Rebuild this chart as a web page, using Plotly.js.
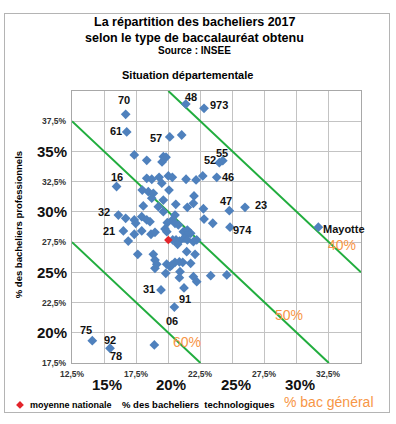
<!DOCTYPE html>
<html><head><meta charset="utf-8">
<script src="https://cdn.plot.ly/plotly-3.0.1.min.js"></script>
<style>
html,body{margin:0;padding:0;background:#fff;}
#chart{position:absolute;left:0;top:0;width:396px;height:424px;}
#frame{position:absolute;left:4px;top:13px;width:384px;height:398px;border:1px solid #b4b4b4;pointer-events:none;}
</style></head><body>
<div id="chart"></div><div id="frame"></div>
<script>
// Departments: % technological baccalaureates (x) and % professional baccalaureates (y)
const deptCodes = ['70','61','57','48','973','52','55','16','46','47','23','32','21','974','Mayotte','91','31','06','75','92','78',
  '','','','','','','','','','','','','','','','','','','','','','','','','','','','','','','','','','','','','','','','','','','','','','','','','','','','','','','','','','','','','','','','','','','',''];
const techPct = [16.68,16.76,20.11,21.36,22.78,23.97,24.24,15.97,23.77,24.75,25.97,16.11,16.50,24.80,31.68,21.22,19.43,20.47,14.08,15.46,18.91,
  21.04,17.35,18.32,19.61,19.82,19.51,18.32,18.71,19.28,20.00,20.31,19.49,21.38,22.16,22.68,
  20.05,17.97,18.44,18.83,18.71,19.61,19.22,18.05,20.58,22.00,21.95,21.48,22.73,
  16.68,17.35,17.46,17.93,18.32,18.57,19.61,20.31,20.52,19.92,20.52,20.78,19.74,19.88,
  17.35,17.93,18.65,18.96,16.88,21.17,21.48,21.74,21.38,22.78,23.46,
  20.34,20.60,20.86,21.22,21.48,21.95,22.21,
  17.62,18.83,18.96,19.10,18.96,19.87,20.13,20.52,20.86,21.12,21.43,22.08,21.74,
  19.80,20.91,20.86,21.95,22.21,23.30,24.55,20.72,20.26];
const proPct = [38.07,36.61,36.20,38.92,38.57,34.07,34.24,32.10,32.86,30.10,30.38,29.74,28.42,28.73,28.73,23.71,23.54,22.13,19.35,18.72,18.99,
  36.36,34.71,34.27,34.57,34.52,34.13,32.78,32.70,32.86,32.97,32.86,32.37,32.70,32.64,32.97,
  31.81,31.81,31.67,31.54,31.13,30.98,30.43,30.49,30.63,31.32,30.71,30.38,30.26,
  29.47,29.33,29.06,29.60,29.33,29.19,30.02,29.33,29.06,29.11,29.74,28.92,28.59,28.36,
  28.15,28.42,28.15,28.31,27.59,28.36,28.50,28.23,28.01,29.41,29.06,
  27.68,27.68,27.59,27.82,27.68,27.54,27.68,
  26.49,26.49,26.02,25.67,25.33,25.67,25.47,25.83,25.86,25.83,26.71,26.49,25.75,
  24.92,25.05,24.56,24.64,24.23,24.72,24.78,27.32,25.60];
// National average
const meanTech = [20.0];
const meanPro = [27.68];
// Iso-lines of % general baccalaureate
const generalLevels = [40, 50, 60];
const generalLabels = ['40%', '50%', '60%'];
// Axis ticks
const xSmallTicks = [12.5, 17.5, 22.5, 27.5, 32.5];
const xSmallText = ['12,5%', '17,5%', '22,5%', '27,5%', '32,5%'];
const xBigTicks = [15, 20, 25, 30];
const xBigText = ['15%', '20%', '25%', '30%'];
const ySmallTicks = [17.5, 22.5, 27.5, 32.5, 37.5];
const ySmallText = ['17,5%', '22,5%', '27,5%', '32,5%', '37,5%'];
const yBigTicks = [20, 25, 30, 35];
const yBigText = ['20%', '25%', '30%', '35%'];

const X0 = 12.5, X1 = 35, Y0 = 17.5, Y1 = 40;
const FONT = 'Liberation Sans, Arial, sans-serif';

// label offsets (px) for labelled departments
const labelShift = {
  '70':[-2,14], '61':[-11,1], '57':[-14,-1], '48':[5,7], '973':[15,3], '52':[-9,3], '55':[-1,8],
  '16':[0,10], '46':[11,0], '47':[-3,10], '23':[16,2], '32':[-14,3], '21':[-14,0], '974':[13,-3],
  'Mayotte':[26,-2], '91':[1,-11], '31':[-12,1], '06':[-2,-14], '75':[-6,11], '92':[0,8], '78':[-38,-11]
};

const traces = [];
generalLevels.forEach(g => {
  const s = 100 - g;
  const xa = Math.max(X0, s - Y1), xb = Math.min(X1, s - Y0);
  traces.push({x:[xa, xb], y:[s - xa, s - xb], mode:'lines', line:{color:'#21ad3e', width:2},
    showlegend:false, hoverinfo:'skip'});
});
traces.push({x: techPct, y: proPct, mode:'markers', type:'scatter', showlegend:false,
  marker:{symbol:'diamond', size:7.5, color:'#4f81bd'}});
traces.push({x: meanTech, y: meanPro, mode:'markers', type:'scatter', name:'moyenne nationale', showlegend:false,
  marker:{symbol:'diamond', size:6.5, color:'#e3242b'}});

const ann = [];
const t = (text, x, y, size, bold, extra) => Object.assign({text: bold ? '<b>'+text+'</b>' : text,
  x, y, xref:'paper', yref:'paper', xanchor:'center', yanchor:'middle', showarrow:false,
  font:{family:FONT, size, color:'#000'}}, extra||{});
ann.push(t('La répartition des bacheliers 2017', 0.425, 1.254, 12.5, true));
ann.push(t('selon le type de baccalauréat obtenu', 0.425, 1.195, 12.5, true));
ann.push(t('Source : INSEE', 0.425, 1.148, 10, true));
ann.push(t('Situation départementale', 0.40, 1.06, 11, true));
ann.push(t('% des bacheliers  technologiques', 0.436, -0.154, 9.5, true));
ann.push(t('% des bacheliers professionnels', -0.187, 0.51, 9.5, true, {textangle:-90}));
ann.push(t('moyenne nationale', -0.151, -0.154, 9, true, {xanchor:'left'}));
ann.push({text:'% bac général', x:0.89, y:-0.143, xref:'paper', yref:'paper', xanchor:'center', yanchor:'middle',
  showarrow:false, font:{family:FONT, size:14, color:'#f79646'}});

deptCodes.forEach((c, i) => {
  if (!c) return;
  const sh = labelShift[c] || [0, 0];
  ann.push({text:'<b>'+c+'</b>', x: techPct[i], y: proPct[i], xref:'x', yref:'y', showarrow:false,
    xanchor:'center', yanchor:'middle',
    xshift: sh[0], yshift: sh[1], font:{family:FONT, size:11, color:'#111'}});
});

const isoPos = [[33.5, 27.26], [29.42, 21.47], [21.46, 19.24]];
generalLabels.forEach((l, i) => {
  ann.push({text:l, x: isoPos[i][0], y: isoPos[i][1], xref:'x', yref:'y', showarrow:false,
    xanchor:'center', yanchor:'middle', font:{family:FONT, size:14, color:'#f79646'}});
});

xSmallTicks.forEach((v, i) => ann.push({text:'<b>'+xSmallText[i]+'</b>', x:v, y:0, xref:'x', yref:'paper',
  xanchor:'center', yanchor:'top', yshift:-4, showarrow:false, font:{family:FONT, size:8.5, color:'#333'}}));
xBigTicks.forEach((v, i) => ann.push({text:'<b>'+xBigText[i]+'</b>', x:v, y:0, xref:'x', yref:'paper',
  xanchor:'center', yanchor:'top', yshift:-11, xshift:3, showarrow:false, font:{family:FONT, size:15, color:'#111'}}));
ySmallTicks.forEach((v, i) => ann.push({text:'<b>'+ySmallText[i]+'</b>', x:0, y:v, xref:'paper', yref:'y',
  xanchor:'right', yanchor:'middle', xshift:-3, showarrow:false, font:{family:FONT, size:8.5, color:'#333'}}));
yBigTicks.forEach((v, i) => ann.push({text:'<b>'+yBigText[i]+'</b>', x:0, y:v, xref:'paper', yref:'y',
  xanchor:'right', yanchor:'middle', xshift:-3, showarrow:false, font:{family:FONT, size:15, color:'#111'}}));

// legend glyph (red diamond) for "moyenne nationale"
const lgx = -0.18, lgy = -0.154, hx = 0.0135, hy = 0.0145;
const shapes = [{type:'path', xref:'paper', yref:'paper',
  path:`M ${lgx-hx} ${lgy} L ${lgx} ${lgy+hy} L ${lgx+hx} ${lgy} L ${lgx} ${lgy-hy} Z`,
  fillcolor:'#e3242b', line:{width:0}}];

const layout = {
  width:396, height:424,
  margin:{l:72, r:35, t:91, b:61},
  paper_bgcolor:'#fff', plot_bgcolor:'#fff',
  font:{family:FONT},
  xaxis:{range:[X0, X1], tick0:12.5, dtick:2.5, showgrid:true, gridcolor:'#c3c3c3', gridwidth:1,
    zeroline:false, showline:true, linecolor:'#a8a8a8', mirror:true, showticklabels:false, ticks:''},
  yaxis:{range:[Y0, Y1], tick0:17.5, dtick:2.5, showgrid:true, gridcolor:'#c3c3c3', gridwidth:1,
    zeroline:false, showline:true, linecolor:'#a8a8a8', mirror:true, showticklabels:false, ticks:''},
  showlegend:false,
  shapes: shapes,
  annotations: ann
};
Plotly.newPlot('chart', traces, layout, {staticPlot:true});
</script>
</body></html>
